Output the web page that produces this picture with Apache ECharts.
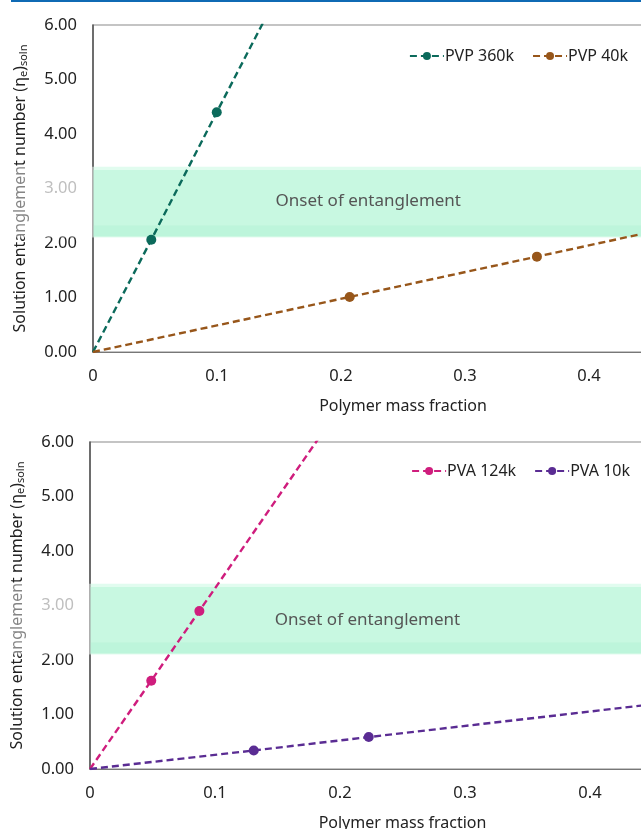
<!DOCTYPE html>
<html>
<head>
<meta charset="utf-8">
<script src="https://cdn.jsdelivr.net/npm/echarts@6/dist/echarts.min.js"></script>
<style>
  html, body { margin: 0; padding: 0; background: #fff; }
  #chart { width: 641px; height: 829px; }
</style>
</head>
<body>
<div id="chart"></div>
<script>
// Polymer mass fraction vs. solution entanglement number
const pvp360kX = [0.047, 0.0998];
const pvp360kY = [2.06, 4.40];
const pvp360kTrendEnd = [0.5, 22.0];

const pvp40kX = [0.207, 0.358];
const pvp40kY = [1.01, 1.75];
const pvp40kTrendEnd = [0.5, 2.45];

const pva124kX = [0.049, 0.0875];
const pva124kY = [1.62, 2.90];
const pva124kTrendEnd = [0.5, 16.6];

const pva10kX = [0.131, 0.223];
const pva10kY = [0.34, 0.586];
const pva10kTrendEnd = [0.5, 1.32];

// Onset-of-entanglement band (y range) and its label position
const onsetBand = [2.1, 3.4];
const onsetLabelTop = [0.222, 2.77];
const onsetLabelBottom = [0.222, 2.73];

const xTicks = [0, 0.1, 0.2, 0.3, 0.4, 0.5];
const yTicks = ['0.00', '1.00', '2.00', '3.00', '4.00', '5.00', '6.00'];

const FONT = '"Noto Sans", "Open Sans", sans-serif';
const COLORS = {
  pvp360k: '#0b6a5b',
  pvp40k: '#97561a',
  pva124k: '#cf1d7d',
  pva10k: '#5a2c93'
};

function buildLine(xs, ys, end) {
  const pts = [{ value: [0, 0], symbol: 'none' }];
  xs.forEach((x, i) => pts.push({ value: [x, ys[i]] }));
  pts.push({ value: end, symbol: 'none' });
  return pts;
}

function dataSeries(name, color, xs, ys, end, idx) {
  return {
    name: name,
    type: 'line',
    xAxisIndex: idx,
    yAxisIndex: idx,
    data: buildLine(xs, ys, end),
    symbol: 'circle',
    symbolSize: 10,
    showAllSymbol: true,
    clip: true,
    z: 3,
    itemStyle: { color: color },
    lineStyle: { color: color, width: 2.4, type: [7, 4] },
    emphasis: { disabled: true }
  };
}

function bandSeries(idx, labelPos) {
  return {
    type: 'line',
    xAxisIndex: idx,
    yAxisIndex: idx,
    data: [[0, 0]],
    symbol: 'none',
    lineStyle: { opacity: 0 },
    silent: true,
    z: 6,
    markArea: {
      silent: true,
      data: [
        [{ yAxis: onsetBand[0], itemStyle: { color: 'rgba(120,240,180,0.22)' } }, { yAxis: onsetBand[1] }],
        [{ yAxis: onsetBand[0] + 0.02, itemStyle: { color: 'rgba(120,240,180,0.24)' } }, { yAxis: onsetBand[1] - 0.06 }],
        [{ yAxis: onsetBand[0] + 0.02, itemStyle: { color: 'rgba(100,230,170,0.10)' } }, { yAxis: onsetBand[0] + 0.22 }]
      ]
    },
    markPoint: {
      silent: true,
      symbol: 'circle',
      symbolSize: 0,
      data: [{ coord: labelPos }],
      label: {
        show: true,
        position: 'inside',
        formatter: 'Onset of entanglement',
        color: '#555',
        fontFamily: FONT,
        fontSize: 17
      }
    }
  };
}

const yName = 'Solution entanglement number (η{sub|e}){sub|soln}';

function yAxisCfg(idx) {
  return {
    gridIndex: idx,
    type: 'value',
    min: 0,
    max: 6,
    interval: 1,
    name: yName,
    nameLocation: 'middle',
    nameGap: 64,
    nameTextStyle: {
      fontFamily: FONT,
      fontSize: 16,
      color: '#222',
      rich: { sub: { fontSize: 11, fontFamily: FONT, color: '#222', verticalAlign: 'bottom', padding: [6, 0, 0, 0] } }
    },
    axisLine: { show: true, lineStyle: { color: '#555', width: 1.5 } },
    axisTick: { show: false },
    splitLine: { show: false },
    axisLabel: {
      margin: 16,
      fontFamily: FONT,
      fontSize: 16.5,
      color: function (v) {
        return (v > onsetBand[0] && v < onsetBand[1]) ? '#8a8a8a' : '#222';
      },
      formatter: function (v) { return yTicks[Math.round(v)]; }
    }
  };
}

function xAxisCfg(idx) {
  return {
    gridIndex: idx,
    type: 'value',
    min: xTicks[0],
    max: xTicks[xTicks.length - 1],
    interval: 0.1,
    name: 'Polymer mass fraction',
    nameLocation: 'middle',
    nameGap: 46,
    nameTextStyle: { fontFamily: FONT, fontSize: 16, color: '#222', align: 'center' },
    axisLine: { show: true, lineStyle: { color: '#777', width: 1.2 } },
    axisTick: { show: false },
    splitLine: { show: false },
    axisLabel: {
      margin: 16,
      fontFamily: FONT,
      fontSize: 16.5,
      color: '#222',
      formatter: function (v) { return v === 0 ? '0' : v.toFixed(1); }
    }
  };
}

const chart = echarts.init(document.getElementById('chart'), null, { renderer: 'canvas' });

const option = {
  animation: false,
  backgroundColor: '#fff',
  grid: [
    { left: 93, top: 25, right: -72, height: 327, show: true, containLabel: false, outerBoundsMode: 'none', borderColor: '#8a8a8a', borderWidth: 1.2, backgroundColor: 'transparent' },
    { left: 90, top: 442, right: -74, height: 327, show: true, containLabel: false, outerBoundsMode: 'none', borderColor: '#8a8a8a', borderWidth: 1.2, backgroundColor: 'transparent' }
  ],
  xAxis: [xAxisCfg(0), xAxisCfg(1)],
  yAxis: [yAxisCfg(0), yAxisCfg(1)],
  legend: [
    {
      top: 43, right: 8, itemGap: 18, itemWidth: 34, itemHeight: 10,
      textStyle: { fontFamily: FONT, fontSize: 16, color: '#222', padding: [0, 0, 0, -4] },
      data: ['PVP 360k', 'PVP 40k']
    },
    {
      top: 458, right: 6, itemGap: 18, itemWidth: 34, itemHeight: 10,
      textStyle: { fontFamily: FONT, fontSize: 16, color: '#222', padding: [0, 0, 0, -4] },
      data: ['PVA 124k', 'PVA 10k']
    }
  ],
  series: [
    dataSeries('PVP 360k', COLORS.pvp360k, pvp360kX, pvp360kY, pvp360kTrendEnd, 0),
    dataSeries('PVP 40k', COLORS.pvp40k, pvp40kX, pvp40kY, pvp40kTrendEnd, 0),
    bandSeries(0, onsetLabelTop),
    dataSeries('PVA 124k', COLORS.pva124k, pva124kX, pva124kY, pva124kTrendEnd, 1),
    dataSeries('PVA 10k', COLORS.pva10k, pva10kX, pva10kY, pva10kTrendEnd, 1),
    bandSeries(1, onsetLabelBottom)
  ]
};

chart.setOption(option);

// Faint wash of the band over the left margin, plus the header strip
const washes = [0, 1].map(function (g) {
  const top = chart.convertToPixel({ gridIndex: g }, [0, onsetBand[1]]);
  const bot = chart.convertToPixel({ gridIndex: g }, [0, onsetBand[0]]);
  return {
    type: 'rect',
    silent: true,
    z: 100,
    shape: { x: 0, y: top[1], width: top[0] + 1, height: bot[1] - top[1] },
    style: { fill: 'rgba(255,255,255,0.45)' }
  };
});

chart.setOption({
  graphic: washes.concat([
    { type: 'rect', silent: true, z: 100, shape: { x: 11, y: 0, width: 630, height: 2 }, style: { fill: '#0f6ab4' } }
  ])
});
</script>
</body>
</html>
